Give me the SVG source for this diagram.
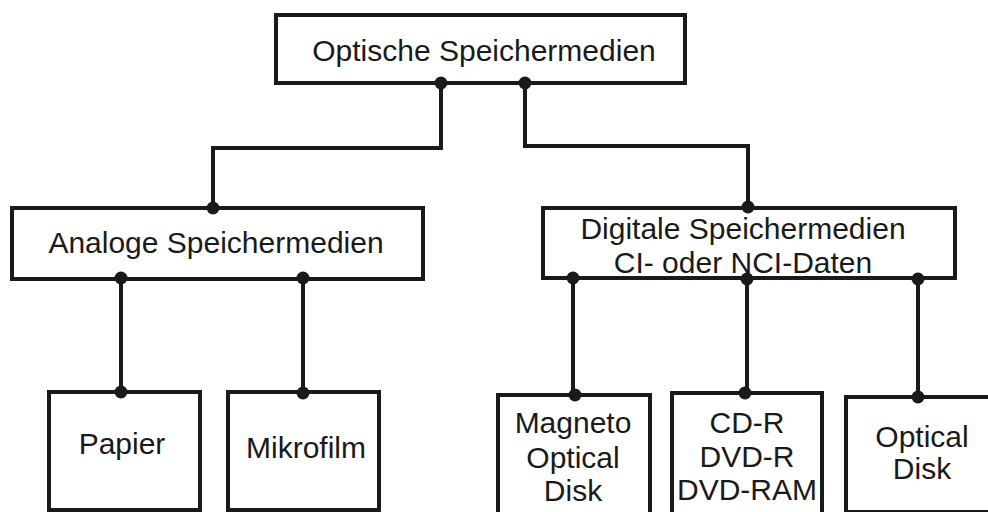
<svg xmlns="http://www.w3.org/2000/svg" width="988" height="512" viewBox="0 0 988 512">
<style>
.box{fill:#fff;stroke:#1a1a1a;stroke-width:4}
.ln{fill:none;stroke:#1a1a1a;stroke-width:4}
.dot{fill:#1a1a1a}
text{font-family:"Liberation Sans",Arial,sans-serif;font-size:30px;fill:#1a1a1a;text-anchor:middle}
</style>
<rect width="988" height="512" fill="#fff"/>
<g id="root"><rect class="box" x="276" y="15" width="409" height="68"/><text x="484" y="61">Optische Speichermedien</text></g>
<g id="analog"><rect class="box" x="12" y="208" width="411" height="71"/><text x="216" y="253">Analoge Speichermedien</text></g>
<g id="digital"><rect class="box" x="543" y="208" width="412" height="70"/><text x="743" y="239">Digitale Speichermedien</text><text x="743" y="273">CI- oder NCI-Daten</text></g>
<g id="papier"><rect class="box" x="49" y="392" width="151" height="118"/><text x="122" y="454">Papier</text></g>
<g id="mikrofilm"><rect class="box" x="228" y="392" width="151" height="118"/><text x="306" y="458">Mikrofilm</text></g>
<g id="mo"><rect class="box" x="498" y="395" width="152" height="130"/><text x="573" y="433">Magneto</text><text x="573" y="468">Optical</text><text x="573" y="501">Disk</text></g>
<g id="cdr"><rect class="box" x="672" y="393" width="150" height="130"/><text x="747" y="433">CD-R</text><text x="747" y="467">DVD-R</text><text x="747" y="500">DVD-RAM</text></g>
<g id="od"><rect class="box" x="846" y="397" width="160" height="115"/><text x="922" y="447">Optical</text><text x="922" y="479">Disk</text></g>
<g id="connectors">
<path class="ln" d="M441 83V148H213V208"/>
<path class="ln" d="M525 83V146H748V208"/>
<path class="ln" d="M121 279V392"/>
<path class="ln" d="M303 279V392"/>
<path class="ln" d="M573 278V395"/>
<path class="ln" d="M747 278V393"/>
<path class="ln" d="M918 278V397"/>
<circle class="dot" cx="441" cy="83" r="6.5"/>
<circle class="dot" cx="525" cy="83" r="6.5"/>
<circle class="dot" cx="213" cy="208" r="6.5"/>
<circle class="dot" cx="748" cy="207" r="6.5"/>
<circle class="dot" cx="121" cy="278" r="6.5"/>
<circle class="dot" cx="303" cy="278" r="6.5"/>
<circle class="dot" cx="573" cy="278" r="6.5"/>
<circle class="dot" cx="747" cy="279" r="6.5"/>
<circle class="dot" cx="918" cy="279" r="6.5"/>
<circle class="dot" cx="121" cy="392" r="6.5"/>
<circle class="dot" cx="303" cy="393" r="6.5"/>
<circle class="dot" cx="575" cy="395" r="6.5"/>
<circle class="dot" cx="745" cy="393" r="6.5"/>
<circle class="dot" cx="918" cy="397" r="6.5"/>
</g>
</svg>
